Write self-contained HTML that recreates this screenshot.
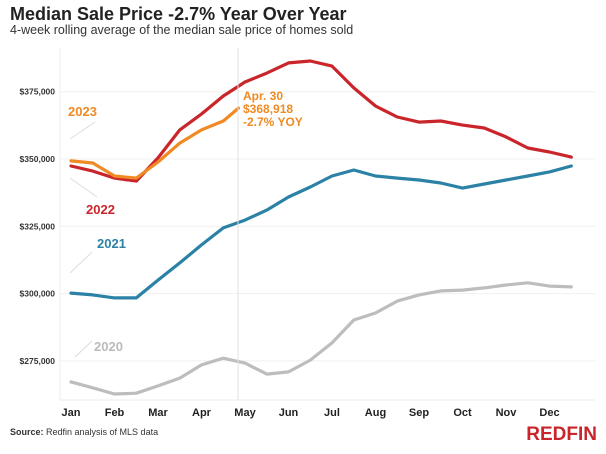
<!DOCTYPE html>
<html><head><meta charset="utf-8"><style>
body{margin:0;background:#fff;width:606px;height:449px;overflow:hidden;font-family:"Liberation Sans",sans-serif}
svg text{font-family:"Liberation Sans",sans-serif}
</style></head><body>
<svg id="chart" width="606" height="449">
<text x="10" y="20" font-size="18" font-weight="bold" fill="#222">Median Sale Price -2.7% Year Over Year</text>
<text x="10" y="34" font-size="12.5" fill="#333">4-week rolling average of the median sale price of homes sold</text>
<g id="grid"></g><g id="yt"></g><g id="xt"></g><g id="lines"></g>
<line x1="60" y1="48" x2="60" y2="400" stroke="#eee"/>
<line x1="238" y1="48" x2="238" y2="400" stroke="#e2e2e2"/>
<g font-weight="bold" font-size="13">
<text x="68" y="116" fill="#f08a24">2023</text>
<text x="86" y="214" fill="#c9252b">2022</text>
<text x="97" y="248" fill="#2b82a6">2021</text>
<text x="94" y="351" fill="#bbb">2020</text>
</g>
<g stroke="#ddd" stroke-width="1">
<line x1="70" y1="139" x2="95" y2="122"/><line x1="70" y1="178" x2="97" y2="197"/>
<line x1="70" y1="273" x2="92" y2="252"/><line x1="75" y1="357" x2="92" y2="341"/>
</g>
<g font-weight="bold" font-size="12" fill="#f08a24">
<text x="243" y="100">Apr. 30</text><text x="243" y="113">$368,918</text><text x="243" y="126">-2.7% YOY</text>
</g>
<text x="10" y="435" font-size="9" fill="#333"><tspan font-weight="bold">Source:</tspan> Redfin analysis of MLS data</text>
<text x="597" y="440" text-anchor="end" font-size="19" font-weight="bold" fill="#c9252b">REDFIN</text>
</svg>
<script>
const months=["Jan","Feb","Mar","Apr","May","Jun","Jul","Aug","Sep","Oct","Nov","Dec"];
const yTicks=[275000,300000,325000,350000,375000];
const steps=[0,0.5,1,1.5,2,2.5,3,3.5,4,4.5,5,5.5,6,6.5,7,7.5,8,8.5,9,9.5,10,10.5,11,11.5];
const v2022=[347.4,345.5,342.9,341.8,350.4,360.8,366.7,373.4,378.6,381.9,385.7,386.4,384.5,376.4,369.7,365.6,363.7,364.1,362.6,361.5,358.2,354.1,352.6,350.7];
const steps2023=[0,0.5,1,1.5,2,2.5,3,3.5,3.85];
const v2023=[349.3,348.5,343.7,342.9,348.9,355.9,360.8,364.1,368.9];
const v2021=[300.2,299.5,298.4,298.4,305,311.4,318.1,324.4,327.3,331,335.9,339.6,343.7,345.9,343.7,342.9,342.2,341.1,339.2,340.7,342.2,343.7,345.2,347.4];
const v2020=[267.2,265,262.7,263,265.7,268.6,273.5,276,274.2,270.1,270.9,275.3,281.7,290.2,292.8,297.2,299.5,301,301.3,302.1,303.2,304,302.8,302.5];
const ns="http://www.w3.org/2000/svg";
const X=m=>71+m*43.5;
const Y=v=>159-(v-350000)/25000*67.3;
function mk(tag,attrs,parent){const e=document.createElementNS(ns,tag);for(const k in attrs)e.setAttribute(k,attrs[k]);document.getElementById(parent).appendChild(e);return e;}
yTicks.forEach(t=>{
 const g=mk("line",{x1:60,x2:595,y1:Y(t),y2:Y(t),stroke:"#f0f0f0"},"grid");
 
 
 const tx=mk("text",{x:55,y:Y(t)+3,"text-anchor":"end","font-size":"8.5","font-weight":"bold",fill:"#333"},"yt");
 tx.textContent="$"+t.toLocaleString("en-US");
 
 
});
mk("line",{x1:60,x2:595,y1:400,y2:400,stroke:"#eee"},"grid");
months.forEach((m,i)=>{
 const tx=mk("text",{x:X(i),y:416,"text-anchor":"middle","font-size":"11","font-weight":"bold",fill:"#222"},"xt");
 tx.textContent=m;
 
 
});
function line(xs,vs,color,name){
 const d=vs.map((v,i)=>(i?"L":"M")+X(xs[i]).toFixed(1)+","+Y(v*1000).toFixed(1)).join("");
 const p=mk("path",{d:d,fill:"none",stroke:color,"stroke-width":3.2,"stroke-linejoin":"round","stroke-linecap":"round"},"lines");
 
 
}
line(steps,v2020,"#bdbdbd","series-2020");
line(steps,v2021,"#2b82a6","series-2021");
line(steps,v2022,"#c9252b","series-2022");
line(steps2023,v2023,"#f08a24","series-2023");
</script>
</body></html>
